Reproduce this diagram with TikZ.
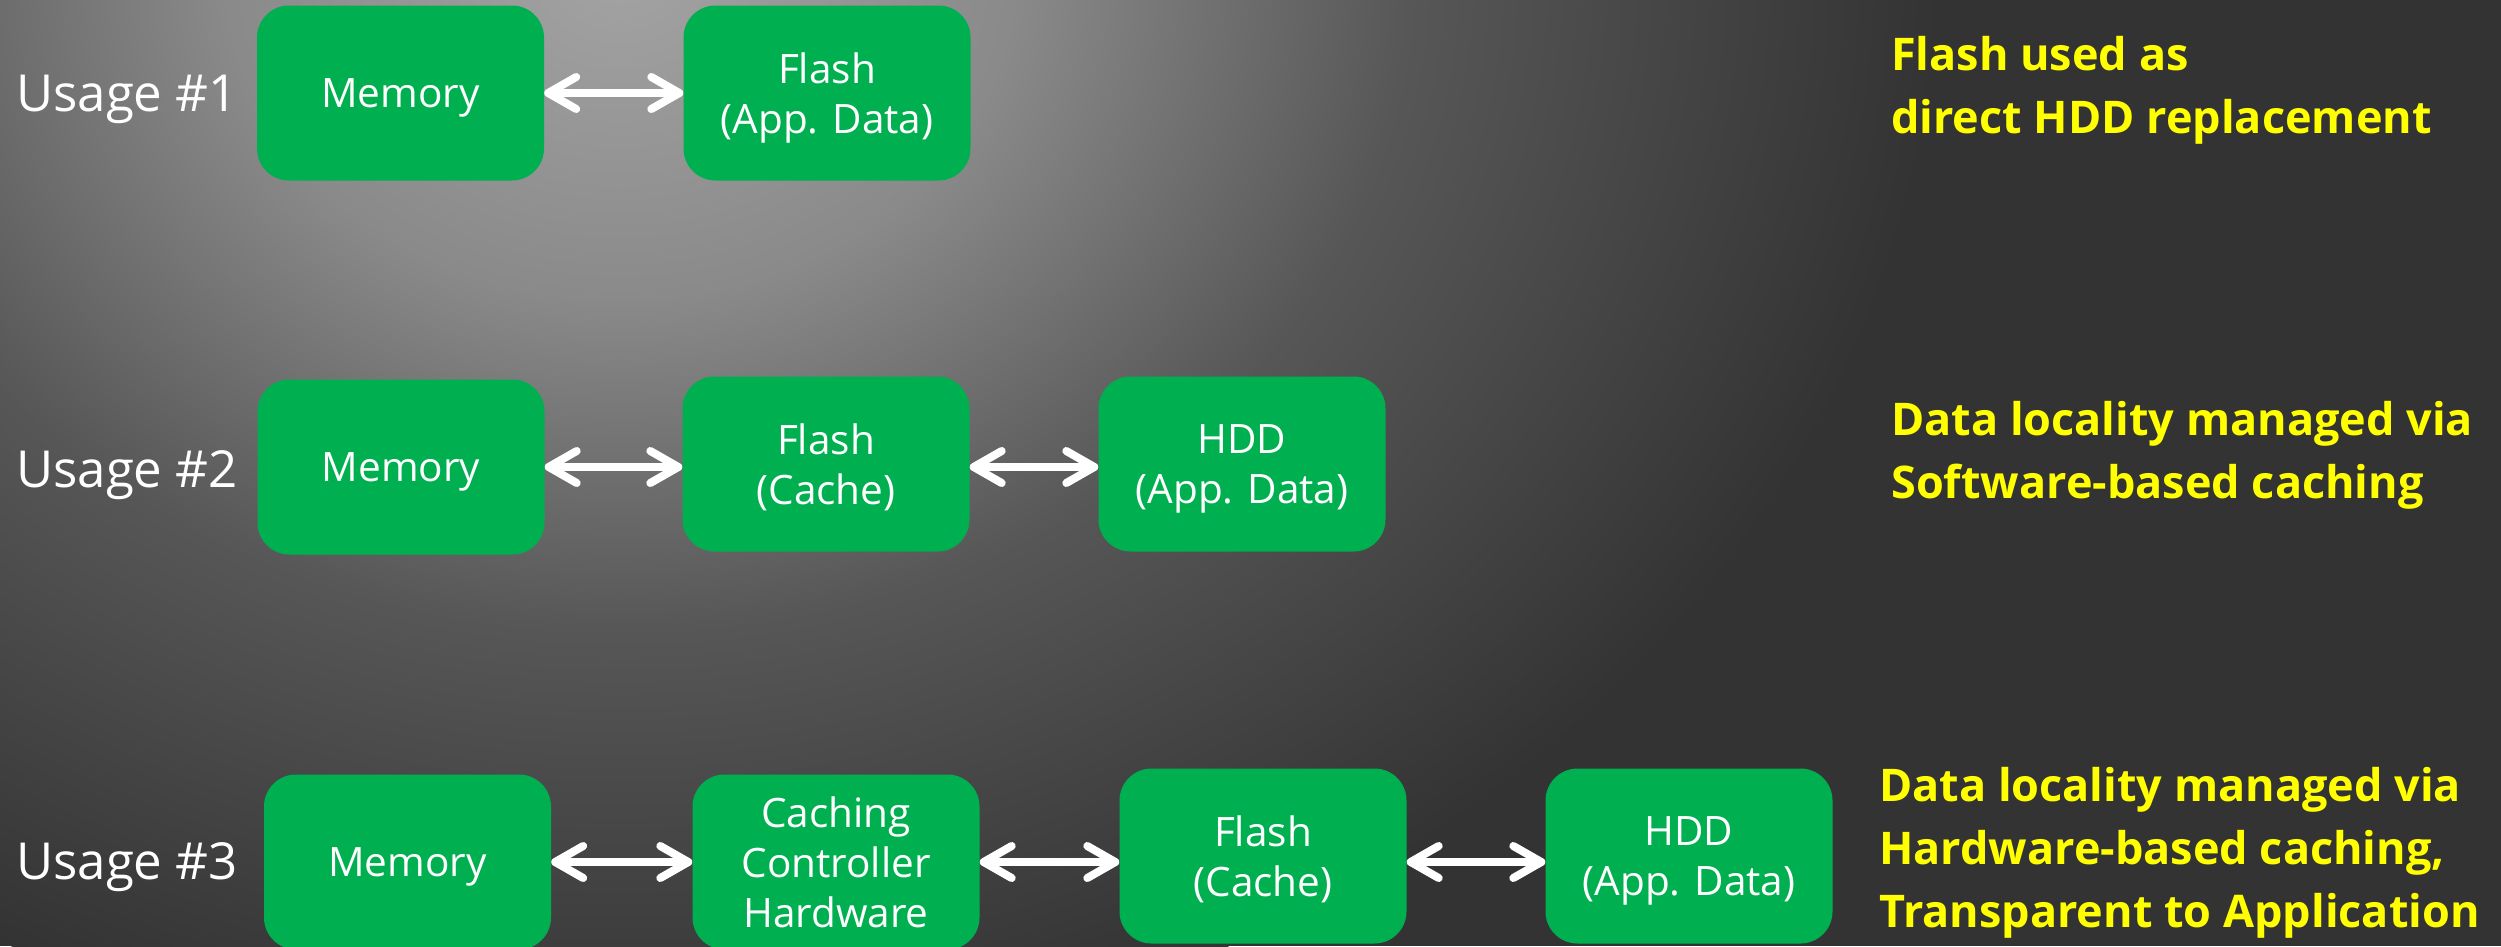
\documentclass[tikz,border=0pt]{standalone}
\usepackage{fontspec}
\setmainfont{Open Sans}
\usetikzlibrary{arrows.meta}
\definecolor{boxgreen}{HTML}{00B050}
\definecolor{bgdark}{HTML}{333333}
\definecolor{noteyellow}{HTML}{FFFF00}
\pgfdeclareradialshading{bgshade}{\pgfpoint{0bp}{0bp}}{rgb(0bp)=(0.64,0.64,0.64); rgb(7.5bp)=(0.54,0.54,0.54); rgb(15bp)=(0.34,0.34,0.34); rgb(25bp)=(0.2,0.2,0.2); rgb(50bp)=(0.2,0.2,0.2)}
\tikzset{
  gbox/.style={rounded corners=32pt, fill=boxgreen, text=white, align=center,
    minimum width=287pt, minimum height=175pt, inner sep=0pt, text depth=0pt,
    font=\fontsize{40.5}{50}\selectfont},
  usagelbl/.style={anchor=base west, text=white, inner sep=0pt, font=\fontsize{51}{60}\selectfont},
  note/.style={anchor=north west, text=noteyellow, align=left, inner sep=0pt,
    font=\fontsize{45}{63}\selectfont\bfseries},
  dbl/.style={draw=white, line width=8pt,
    {Straight Barb[length=28pt,width=32pt,line width=8pt,round]}-{Straight Barb[length=28pt,width=32pt,line width=8pt,round]}}
}
\begin{document}
\begin{tikzpicture}[x=1pt,y=-1pt]
\useasboundingbox (0,0) rectangle (2501,946);
\fill[bgdark] (0,0) rectangle (2501,946);
\begin{scope}
\clip (0,0) rectangle (2501,946);
\shade[shading=bgshade] (620,-30) ellipse [x radius=1320, y radius=1100];
\end{scope}

% Row 1
\node[usagelbl] (u1) at (16,111) {Usage \#1};
\node[gbox] (mem1) at (400.5,93) {Memory};
\node[gbox] (flash1) at (827,93) {Flash\\(App. Data)};
\draw[dbl] (mem1) -- (flash1);

% Row 2
\node[usagelbl] (u2) at (16,487) {Usage \#2};
\node[gbox] (mem2) at (401,467) {Memory};
\node[gbox] (flash2) at (826,464) {Flash\\(Cache)};
\node[gbox] (hdd2) at (1242,464) {HDD\\(App. Data)};
\draw[dbl] (mem2.east) -- (mem2.east -| flash2.west);
\draw[dbl] (flash2.east |- mem2.east) -- (hdd2.west |- mem2.east);

% Row 3
\node[usagelbl] (u3) at (16,879) {Usage \#3};
\node[gbox] (mem3) at (407.5,862) {Memory};
\node[gbox] (cach3) at (836,862) {Caching\\Controller\\Hardware};
\node[gbox] (flash3) at (1263,856) {Flash\\(Cache)};
\node[gbox] (hdd3) at (1689,856) {HDD\\(App. Data)};
\draw[dbl] (mem3) -- (cach3);
\draw[dbl] (cach3.east) -- (cach3.east -| flash3.west);
\draw[dbl] (flash3.east |- cach3.east) -- (hdd3.west |- cach3.east);

% Notes
\node[note] (n1) at (1891,36) {Flash used as\\direct HDD replacement};
\node[note] (n2) at (1891,401) {Data locality managed via\\Software-based caching};
\node[note] (n3) at (1879,767) {Data locality managed via\\Hardware-based caching,\\Transparent to Application};
\end{tikzpicture}
\end{document}
